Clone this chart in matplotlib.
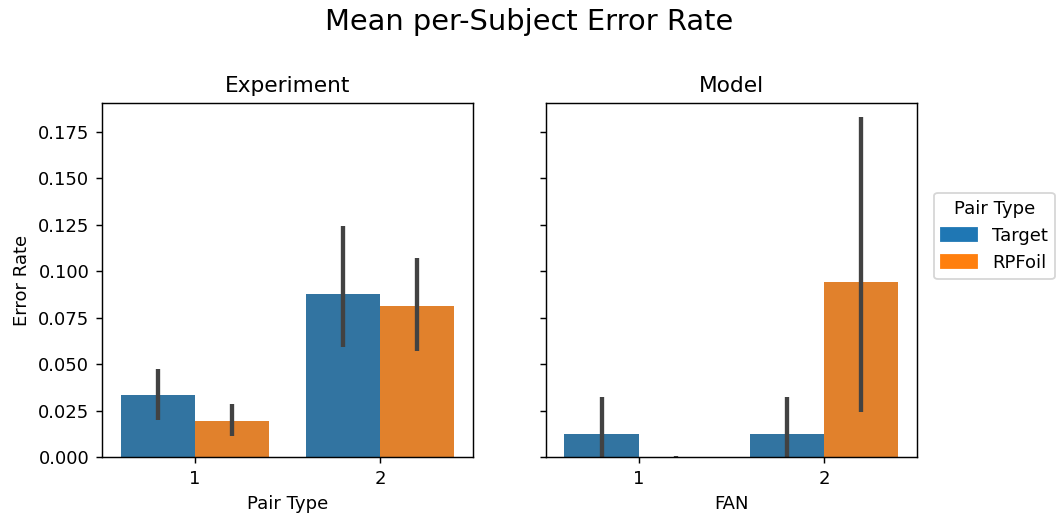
import numpy as np
import matplotlib
matplotlib.use("Agg")
import matplotlib.pyplot as plt
from matplotlib.patches import Patch

fan_levels = ["1", "2"]
pair_types = ["Target", "RPFoil"]

# mean error rate per FAN level, one list per pair type
exp_mean = {"Target": [0.0334, 0.0878], "RPFoil": [0.0194, 0.0813]}
exp_lo = {"Target": [0.0199, 0.0592], "RPFoil": [0.0113, 0.0571]}
exp_hi = {"Target": [0.0474, 0.1244], "RPFoil": [0.0285, 0.1072]}

mod_mean = {"Target": [0.0124, 0.0124], "RPFoil": [0.0, 0.0942]}
mod_lo = {"Target": [0.0, 0.0], "RPFoil": [0.0, 0.0242]}
mod_hi = {"Target": [0.0323, 0.0323], "RPFoil": [0.0006, 0.1833]}

bar_colors = {"Target": "#3274a1", "RPFoil": "#e1812c"}
legend_colors = {"Target": "#1f77b4", "RPFoil": "#ff7f0e"}

fig = plt.figure(figsize=(1058 / 130, 515 / 130), dpi=130)
ax1 = fig.add_axes([0.0964, 0.1126, 0.3507, 0.6874])
ax2 = fig.add_axes([0.516, 0.1126, 0.3507, 0.6874], sharey=ax1)


def draw_panel(ax, mean, lo, hi):
    x = np.arange(len(fan_levels))
    width = 0.4
    for i, pt in enumerate(pair_types):
        pos = x - 0.2 + i * width
        ax.bar(pos, mean[pt], width=width, color=bar_colors[pt])
        for p, l, h in zip(pos, lo[pt], hi[pt]):
            ax.plot([p, p], [l, h], color="#424242", lw=2.4, solid_capstyle="butt")
    ax.set_xticks(x)
    ax.set_xticklabels(fan_levels)
    ax.set_xlim(-0.5, 1.5)


draw_panel(ax1, exp_mean, exp_lo, exp_hi)
draw_panel(ax2, mod_mean, mod_lo, mod_hi)

ax1.set_ylim(0, 0.1906)
ax1.set_yticks(np.arange(0, 0.18, 0.025))
ax1.set_title("Experiment", fontsize=12)
ax2.set_title("Model", fontsize=12)
ax1.set_xlabel("Pair Type")
ax2.set_xlabel("FAN")
ax1.set_ylabel("Error Rate")
plt.setp(ax2.get_yticklabels(), visible=False)

handles = [Patch(color=legend_colors[pt], label=pt) for pt in pair_types]
ax2.legend(handles=handles, title="Pair Type", loc="center left",
           bbox_to_anchor=(1.022, 0.624), fontsize=10, title_fontsize=10)

fig.suptitle("Mean per-Subject Error Rate", fontsize=16, y=0.985)

fig.savefig("out.png", dpi=130)
